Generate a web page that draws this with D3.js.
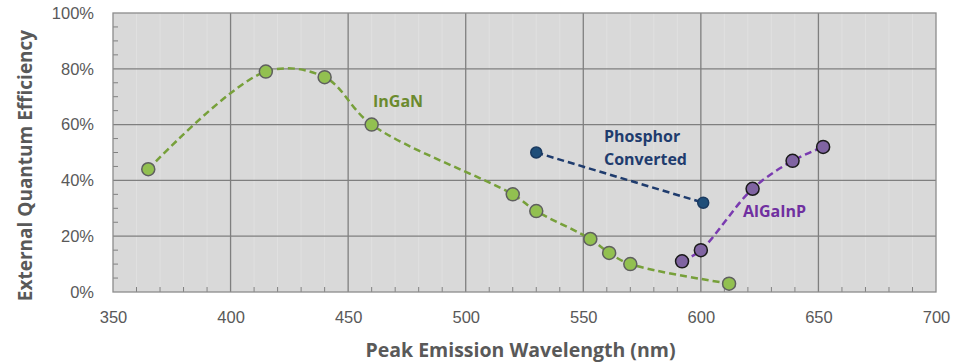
<!DOCTYPE html>
<html>
<head>
<meta charset="utf-8">
<script src="https://cdn.jsdelivr.net/npm/d3@7"></script>
<style>
  body { margin: 0; background: #fff; }
  svg { display: block; font-family: "Open Sans", "Noto Sans", sans-serif; }
</style>
</head>
<body>
<svg id="chart"></svg>
<script>
// values
const xTicks = [350, 400, 450, 500, 550, 600, 650, 700];
const yTicks = [0, 0.2, 0.4, 0.6, 0.8, 1.0];

const inganWl = [365, 415, 440, 460, 520, 530, 553, 561, 570, 612];
const inganEqe = [0.44, 0.79, 0.77, 0.60, 0.35, 0.29, 0.19, 0.14, 0.10, 0.03];

const phosphorWl = [530, 601];
const phosphorEqe = [0.50, 0.32];

const algainpWl = [592, 600, 622, 639, 652];
const algainpEqe = [0.11, 0.15, 0.37, 0.47, 0.52];

const width = 953;
const height = 364;
const margin = { top: 13, right: 17, bottom: 72, left: 113 };

const svg = d3.select("#chart").attr("width", width).attr("height", height);

const x = d3.scaleLinear()
    .domain([350, 700])
    .range([margin.left, width - margin.right]);

const y = d3.scaleLinear()
    .domain([0, 1])
    .range([height - margin.bottom, margin.top]);

// plot background
svg.append("rect")
    .attr("x", x(350)).attr("y", y(1))
    .attr("width", x(700) - x(350)).attr("height", y(0) - y(1))
    .attr("fill", "#d9d9d9");

// faint minor bands
svg.append("g")
    .selectAll("line")
    .data(d3.range(360, 700, 10).filter(v => v % 50 !== 0))
    .join("line")
    .attr("x1", d => x(d)).attr("x2", d => x(d))
    .attr("y1", y(1)).attr("y2", y(0))
    .attr("stroke", "#e0e0e0").attr("stroke-width", 1);

// grid
svg.append("g")
    .selectAll("line")
    .data(xTicks.slice(1, -1))
    .join("line")
    .attr("x1", d => x(d)).attr("x2", d => x(d))
    .attr("y1", y(1)).attr("y2", y(0))
    .attr("stroke", "#7f7f7f").attr("stroke-width", 1.3);

svg.append("g")
    .selectAll("line")
    .data(yTicks.slice(1, -1))
    .join("line")
    .attr("x1", x(350)).attr("x2", x(700))
    .attr("y1", d => y(d)).attr("y2", d => y(d))
    .attr("stroke", "#7f7f7f").attr("stroke-width", 1.3);

// minor ticks (inside)
svg.append("g")
    .selectAll("line")
    .data(d3.range(360, 700, 10).filter(v => v % 50 !== 0))
    .join("line")
    .attr("x1", d => x(d)).attr("x2", d => x(d))
    .attr("y1", y(0)).attr("y2", y(0) - 5)
    .attr("stroke", "#808080").attr("stroke-width", 1);

svg.append("g")
    .selectAll("line")
    .data(d3.range(0.05, 1, 0.05).filter(v => Math.round(v * 100) % 20 !== 0))
    .join("line")
    .attr("x1", x(350)).attr("x2", x(350) + 5)
    .attr("y1", d => y(d)).attr("y2", d => y(d))
    .attr("stroke", "#808080").attr("stroke-width", 1);

// frame
svg.append("rect")
    .attr("x", x(350)).attr("y", y(1))
    .attr("width", x(700) - x(350)).attr("height", y(0) - y(1))
    .attr("fill", "none").attr("stroke", "#8c8c8c").attr("stroke-width", 1.3);

// axes (labels only)
const xAxis = svg.append("g")
    .attr("transform", `translate(0,${y(0)})`)
    .call(d3.axisBottom(x).tickValues(xTicks).tickSize(0).tickPadding(19));
xAxis.select(".domain").remove();
xAxis.selectAll("text").attr("fill", "#595959").style("font-size", "16.5px");

const yAxis = svg.append("g")
    .attr("transform", `translate(${x(350)},0)`)
    .call(d3.axisLeft(y).tickValues(yTicks).tickFormat(d3.format(".0%")).tickSize(0).tickPadding(19));
yAxis.select(".domain").remove();
yAxis.selectAll("text").attr("fill", "#595959").style("font-size", "16.5px");

// axis titles
svg.append("text")
    .attr("x", (x(350) + x(700)) / 2 - 4).attr("y", 357)
    .attr("text-anchor", "middle")
    .attr("fill", "#595959").style("font-size", "19.5px").style("font-weight", "bold")
    .text("Peak Emission Wavelength (nm)");

svg.append("text")
    .attr("transform", `translate(32,${(y(0) + y(1)) / 2 + 13}) rotate(-90)`)
    .attr("text-anchor", "middle")
    .attr("fill", "#595959").style("font-size", "19px").style("font-weight", "bold")
    .text("External Quantum Efficiency");

// series
function series(wl, eqe, curve, lineColor, fill, stroke, r) {
    const pts = wl.map((w, i) => [w, eqe[i]]);
    const line = d3.line().x(d => x(d[0])).y(d => y(d[1])).curve(curve);
    svg.append("path")
        .attr("d", line(pts))
        .attr("fill", "none")
        .attr("stroke", lineColor)
        .attr("stroke-width", 2.5)
        .attr("stroke-dasharray", "7,4");
    svg.append("g")
        .selectAll("circle")
        .data(pts)
        .join("circle")
        .attr("cx", d => x(d[0]))
        .attr("cy", d => y(d[1]))
        .attr("r", r)
        .attr("fill", fill)
        .attr("stroke", stroke)
        .attr("stroke-width", 1.5);
}

series(inganWl, inganEqe, d3.curveCatmullRom.alpha(0.5), "#77a03a", "#92c050", "#5f5f5f", 6.5);
series(phosphorWl, phosphorEqe, d3.curveLinear, "#1f3c6e", "#1f4e79", "#1a3a60", 5.5);
series(algainpWl, algainpEqe, d3.curveCatmullRom.alpha(0.5), "#7a3bb0", "#8064a2", "#1a1a1a", 6.5);

// series labels
const labels = [
    { t: ["InGaN"], x: 373, y: 107, c: "#6b8a2e" },
    { t: ["Phosphor", "Converted"], x: 604, y: 142, c: "#1f3c6e" },
    { t: ["AlGaInP"], x: 743, y: 217, c: "#7030a0" }
];
labels.forEach(l => {
    const tx = svg.append("text")
        .attr("x", l.x).attr("y", l.y)
        .attr("fill", l.c).style("font-size", "16px").style("font-weight", "bold");
    l.t.forEach((s, i) => tx.append("tspan").attr("x", l.x).attr("dy", i ? 23 : 0).text(s));
});
</script>
</body>
</html>
